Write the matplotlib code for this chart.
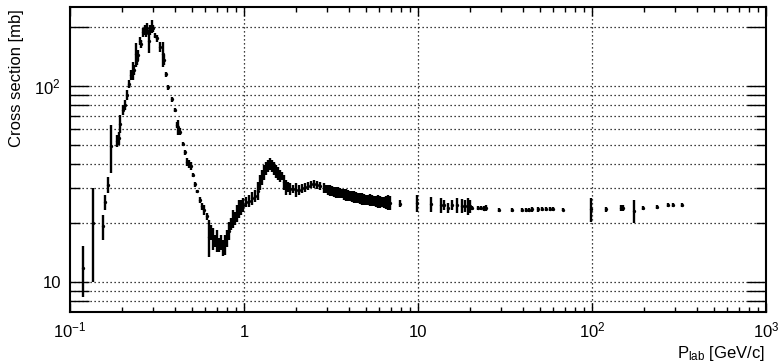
import matplotlib
matplotlib.use("Agg")
import matplotlib.pyplot as plt
from matplotlib.ticker import FixedLocator, NullFormatter

plt.rcParams['font.family'] = ['Liberation Sans', 'DejaVu Sans']
plt.rcParams['mathtext.fontset'] = 'custom'
plt.rcParams['mathtext.rm'] = 'Liberation Sans'
plt.rcParams['mathtext.it'] = 'Liberation Sans:italic'

# ---- data: momentum [GeV/c], cross section [mb], error [mb] ----
p_lab = [0.119, 0.136, 0.155, 0.158, 0.165, 0.172, 0.186, 0.191, 0.194, 0.202,
         0.207, 0.213, 0.218, 0.224, 0.230, 0.233, 0.240, 0.243, 0.246, 0.2525,
         0.256, 0.263, 0.270, 0.273, 0.277, 0.285, 0.288, 0.296, 0.300, 0.308,
         0.316, 0.329, 0.342, 0.347, 0.356, 0.366, 0.386, 0.401, 0.413, 0.4175,
         0.430, 0.446, 0.458, 0.470, 0.483, 0.496, 0.509, 0.523, 0.537, 0.559,
         0.574, 0.589, 0.613, 0.629, 0.646, 0.663, 0.681, 0.700, 0.718, 0.737,
         0.757, 0.777, 0.798, 0.820, 0.842, 0.865, 0.888, 0.912, 0.936, 0.961,
         0.987, 1.027, 1.067, 1.112, 1.158, 1.206, 1.236, 1.27, 1.30, 1.34,
         1.374, 1.411, 1.45, 1.486, 1.526, 1.566, 1.61, 1.65, 1.69, 1.74,
         1.78, 1.84, 1.91, 1.99, 2.07, 2.15, 2.23, 2.33, 2.42, 2.52,
         2.62, 2.73, 2.87, 2.95, 3.03, 3.11, 3.20, 3.28, 3.37, 3.46,
         3.56, 3.66, 3.76, 3.86, 3.97, 4.08, 4.19, 4.30, 4.42, 4.53,
         4.64, 4.77, 4.90, 5.03, 5.17, 5.31, 5.46, 5.61, 5.76, 5.90,
         6.05, 6.21, 6.38, 6.55, 6.73, 6.90, 7.88,
         9.83, 11.8, 13.6, 14.2, 14.8, 15.6, 16.7, 17.9, 18.6, 19.4,
         19.9, 20.5, 22.2, 23.1, 23.9, 24.7, 29.4, 34.8, 39.5, 41.7,
         43.4, 45.2, 48.8, 51.4, 54.2, 57.1, 59.4, 68.0, 99.3, 119.6,
         146.7, 151.0, 174.7, 196.7, 236.8, 273.0, 292.0, 331.0]

sigma = [11.85, 20.1, 19.2, 25.55, 31.4, 49.6, 52.55, 54.1, 64.35, 75.55,
         80.1, 90.1, 102.5, 114.0, 120.0, 120.9, 145.4, 136.0, 144.2, 169.9,
         164.0, 187.8, 193.3, 185.4, 198.0, 170.2, 193.3, 201.7, 196.6, 181.0,
         174.9, 158.4, 146.4, 136.0, 114.6, 98.3, 85.4, 75.5, 63.3, 61.7,
         58.6, 50.65, 45.85, 41.1, 40.05, 39.1, 35.15, 31.5, 29.0, 26.25,
         24.3, 23.35, 21.6, 17.05, 17.95, 16.7, 16.2, 16.3, 15.5, 16.0,
         15.0, 15.55, 16.7, 18.3, 19.8, 21.05, 21.15, 22.45, 23.7, 24.1,
         24.8, 25.65, 25.95, 26.75, 27.55, 29.3, 32.35, 34.3, 36.3, 38.05,
         39.15, 40.2, 39.15, 38.05, 36.7, 35.85, 34.85, 34.75, 32.35, 30.45,
         30.6, 29.9, 29.9, 29.6, 29.55, 30.05, 30.4, 30.95, 31.45, 31.65,
         31.3, 30.95, 30.25, 29.9, 29.55, 29.4, 29.2, 28.9, 28.7, 28.6,
         28.5, 28.3, 28.05, 27.9, 27.7, 27.5, 27.4, 27.2, 27.05, 26.9,
         26.75, 26.6, 26.4, 26.3, 26.25, 26.2, 26.1, 25.9, 25.8, 25.75,
         25.7, 25.6, 25.5, 25.5, 25.55, 25.4, 25.15,
         25.3, 25.0, 24.65, 24.75, 23.9, 24.75, 24.65, 24.5, 24.5, 24.4,
         24.35, 23.85, 23.85, 23.85, 23.7, 23.85, 23.3, 23.3, 23.3, 23.3,
         23.3, 23.45, 23.45, 23.55, 23.55, 23.55, 23.55, 23.4, 23.5, 23.45,
         23.85, 23.85, 23.1, 23.85, 24.15, 24.7, 24.7, 24.7]

sigma_err = [3.45, 10.1, 2.8, 2.25, 2.9, 13.6, 3.65, 4.1, 6.75, 4.45,
             4.7, 5.3, 4.8, 6.7, 12.7, 7.1, 20.4, 8.0, 8.5, 8.0,
             7.8, 10.0, 11.3, 7.6, 11.6, 22.9, 11.3, 15.3, 8.0, 5.4,
             7.2, 9.4, 21.4, 8.0, 3.4, 2.9, 2.5, 1.8, 2.3, 5.5,
             2.4, 1.25, 1.35, 2.0, 1.85, 1.8, 0.85, 0.9, 0.5, 0.95,
             1.0, 1.35, 0.9, 3.65, 1.55, 2.1, 1.2, 2.1, 1.3, 1.4,
             1.4, 1.85, 1.7, 1.9, 1.4, 2.25, 1.65, 2.25, 2.5, 2.1,
             2.0, 1.55, 1.85, 2.05, 1.95, 3.1, 2.85, 3.0, 3.2, 2.85,
             2.75, 2.9, 2.75, 2.85, 2.8, 2.75, 2.45, 1.65, 2.85, 2.65,
             1.8, 2.1, 1.4, 2.4, 1.75, 1.55, 1.6, 1.45, 1.25, 1.45,
             1.4, 1.45, 1.75, 1.5, 1.75, 1.9, 1.7, 1.6, 1.9, 1.8,
             1.7, 1.6, 1.85, 1.9, 1.8, 1.6, 1.8, 1.9, 1.75, 1.6,
             1.75, 1.9, 1.7, 1.6, 1.55, 1.8, 1.7, 1.6, 1.7, 1.9,
             1.8, 1.6, 1.7, 1.9, 2.25, 2.0, 1.05,
             2.5, 2.2, 2.15, 1.45, 1.4, 1.45, 2.15, 2.0, 1.7, 2.4,
             1.85, 0.55, 0.55, 0.55, 0.7, 0.85, 0.5, 0.5, 0.5, 0.5,
             0.5, 0.65, 0.65, 0.55, 0.55, 0.55, 0.55, 0.4, 3.3, 0.65,
             0.85, 0.85, 3.1, 0.55, 0.55, 0.6, 0.6, 0.6]

x_ticks = [0.1, 1, 10, 100, 1000]
x_tick_labels = ['10$^{-1}$', '1', '10', '10$^{2}$', '10$^{3}$']
y_ticks = [10, 100]
y_tick_labels = ['10', '10$^{2}$']
y_grid = [8, 9, 10, 20, 30, 40, 50, 60, 70, 80, 90, 100, 200]

W, H = 779, 364
PT = 0.72  # points per pixel at dpi 100
FS = 12
fig = plt.figure(figsize=(W / 100, H / 100), dpi=100)
ax = fig.add_axes([70 / W, 1 - 312 / H, (766 - 70) / W, (312 - 7) / H])
ax.set_xscale('log')
ax.set_yscale('log')
ax.set_xlim(0.1, 1000)
ax.set_ylim(7.03, 253)

ax.errorbar(p_lab, sigma, yerr=sigma_err, fmt='o', color='black', ms=2.4,
            elinewidth=1.7, capsize=0, mew=0, zorder=3)

# grid
for v in [1, 10, 100]:
    ax.axvline(v, color='black', lw=0.9, ls=(0, (1, 2.2)), zorder=1)
for v in y_grid:
    ax.axhline(v, color='black', lw=0.9, ls=(0, (1, 2.2)), zorder=1)

# x ticks
ax.xaxis.set_major_locator(FixedLocator(x_ticks))
ax.set_xticklabels(x_tick_labels)
x_minor = [m * 10.0 ** e for e in range(-1, 3) for m in range(2, 10)]
ax.xaxis.set_minor_locator(FixedLocator(x_minor))
ax.xaxis.set_minor_formatter(NullFormatter())
ax.tick_params(axis='x', which='major', direction='in', length=9 * PT, width=1,
               top=True, bottom=True, labelsize=FS, pad=25 * PT)
ax.tick_params(axis='x', which='minor', direction='in', length=5 * PT, width=1,
               top=True, bottom=True)
for lab in ax.get_xticklabels():
    lab.set_verticalalignment('baseline')

# y ticks
ax.yaxis.set_major_locator(FixedLocator([8, 9, 10, 80, 90, 100, 200]))
ax.set_yticklabels(['', '', y_tick_labels[0], '', '', y_tick_labels[1], ''])
ax.yaxis.set_minor_locator(FixedLocator([20, 30, 40, 50, 60, 70]))
ax.yaxis.set_minor_formatter(NullFormatter())
ax.tick_params(axis='y', which='major', direction='in', length=19 * PT, width=1,
               left=True, right=True, labelsize=FS, pad=9 * PT)
ax.tick_params(axis='y', which='minor', direction='in', length=10 * PT, width=1,
               left=True, right=True)

for s in ax.spines.values():
    s.set_linewidth(1.5)

fig.text(17 / W, 1 - 9 / H, 'Cross section [mb]', rotation=90,
         ha='center', va='top', fontsize=FS)
fig.text(765 / W, 1 - 358 / H, r'P$_{\mathrm{lab}}$ [GeV/c]',
         ha='right', va='baseline', fontsize=FS)

fig.savefig('out.png', dpi=100)
